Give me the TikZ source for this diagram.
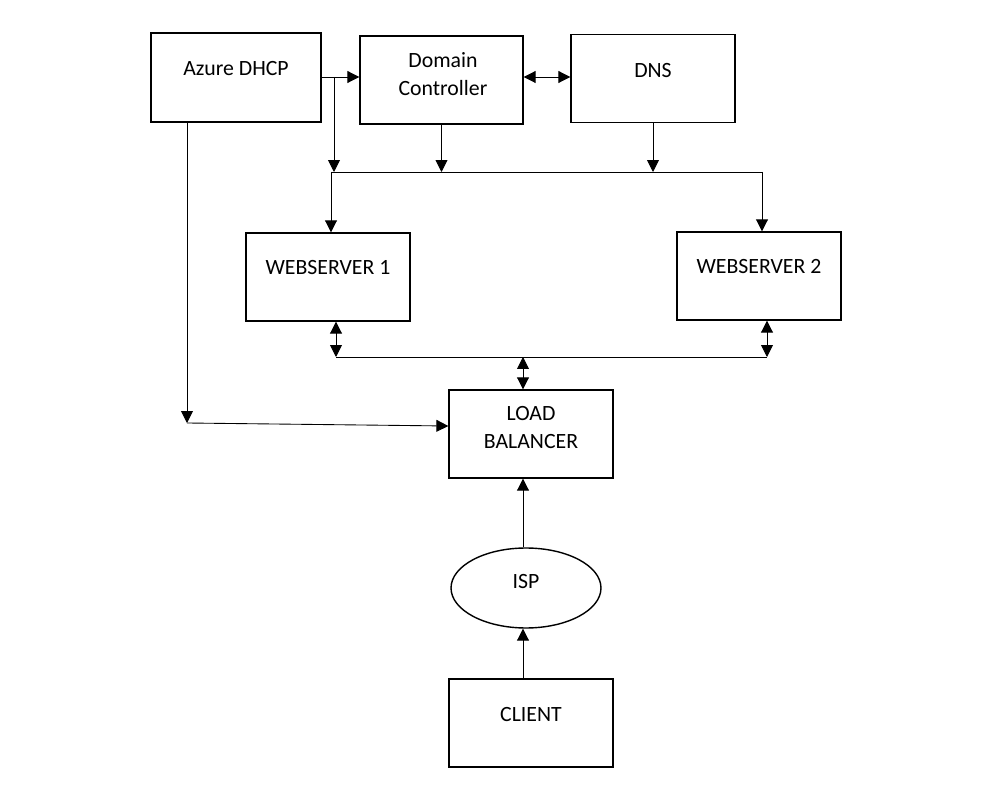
\documentclass[tikz,border=0pt]{standalone}
\usepackage{fontspec}
\setmainfont{Carlito}
\usetikzlibrary{arrows.meta,positioning}
\usetikzlibrary{shapes.geometric}

\begin{document}
\begin{tikzpicture}
		[x=0.02cm,y=-0.02cm,>={Triangle[length=6.8pt,width=6.8pt]},
		box node/.style={draw,line width=0.8pt,minimum width=3.28cm,minimum height=1.76cm,inner sep=0pt},
		text node/.style={inner sep=0pt,align=center,font=\fontsize{12.4}{16.3}\selectfont},
		line/.style={line width=0.5pt}]
		\useasboundingbox (0,0) rectangle (985,804);
		
		\node[box node,minimum width=3.4cm,minimum height=1.78cm] (dhcp) at (236,77.5) {};
		\node[box node,minimum width=3.26cm] (dc) at (441.5,80) {};
		\node[box node] (dns) at (653,78.5) {};
		\node[box node] (ws1) at (328,277) {};
		\node[box node] (ws2) at (759,276) {};
		\node[box node] (lb) at (531,434) {};
		\node[draw,line width=0.8pt,shape=ellipse,minimum width=3cm,minimum height=1.6cm,inner sep=0pt] (isp) at (526,588) {};
		\node[box node] (client) at (531,723) {};
		
		\node[text node] (dhcp text) at (236,69) {Azure DHCP};
		\node[text node] (dc text) at (443,74) {Domain\\Controller};
		\node[text node] (dns text) at (653,71) {DNS};
		\node[text node] (ws1 text) at (328,268) {WEBSERVER 1};
		\node[text node] (ws2 text) at (759,267) {WEBSERVER 2};
		\node[text node] (lb text) at (531,427.5) {LOAD\\BALANCER};
		\node[text node] (isp text) at (526,582) {ISP};
		\node[text node] (client text) at (531,715) {CLIENT};
		
		\coordinate (top split) at (334,77);
		\coordinate (bus left) at (331,172);
		\coordinate (bus right) at (762,172);
		\coordinate (lan left) at (336,357);
		\coordinate (lan mid) at (523,357);
		\coordinate (lan right) at (767,357);
		\coordinate (dhcp corner) at (187,423);
		\coordinate (lb in) at (449,426);
		
		\draw[line,->] (dhcp.east |- top split) to (top split -| dc.west);
		\draw[line,<->] (dc.east |- top split) to (top split -| dns.west);
		\draw[line,->] (top split) to (top split |- bus left);
		\draw[line] (bus left) to (bus right);
		\draw[line,->] (bus left) to (bus left |- ws1.north);
		\draw[line,->] (dc.south) to (dc.south |- bus left);
		\draw[line,->] (dns.south) to (dns.south |- bus left);
		\draw[line,->] (bus right) to (bus right |- ws2.north);
		
		\draw[line,<->] (lan left |- ws1.south) to (lan left);
		\draw[line] (lan left) to (lan right);
		\draw[line,<->] (lan right |- ws2.south) to (lan right);
		\draw[line,<->] (lan mid) to (lan mid |- lb.north);
		
		\draw[line,->] (dhcp corner |- dhcp.south) to (dhcp corner);
		\draw[line,->] (dhcp corner) to (lb in -| lb.west);
		
		\draw[line,->] (lan mid |- isp.north) to (lan mid |- lb.south);
		\draw[line,->] (lan mid |- client.north) to (lan mid |- isp.south);
		\end{tikzpicture}
\end{document}
